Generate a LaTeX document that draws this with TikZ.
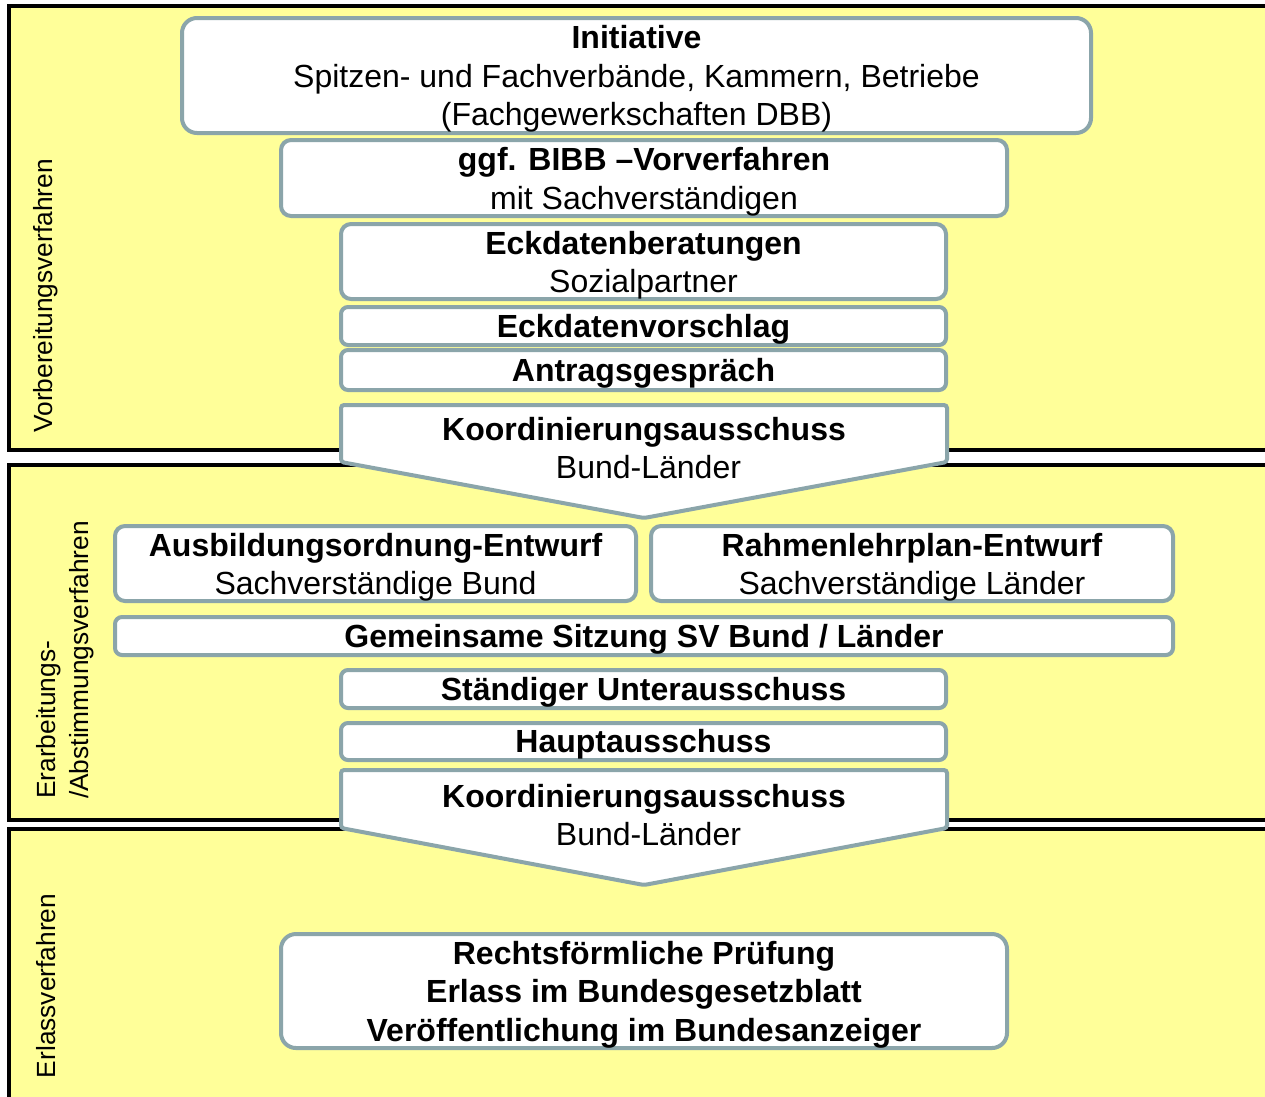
\documentclass[tikz,border=0pt]{standalone}
\usepackage{fontspec}
\setmainfont{Liberation Sans}
\definecolor{bandfill}{RGB}{255,255,153}
\definecolor{boxline}{RGB}{139,165,170}
\newcommand\mainsz{\fontsize{32}{38.5}\selectfont}
\newcommand\sidesz{\fontsize{26.3}{33}\selectfont}
\begin{document}
\begin{tikzpicture}[x=1pt,y=-1pt,
  bandbox/.style={fill=bandfill,draw=black,line width=4pt},
  stepbox/.style={draw=boxline,fill=white,line width=4pt,rounded corners=#1,
    inner sep=0pt},
  stepbox/.default=7pt,
  steptext/.style={align=center,font=\mainsz,inner sep=0pt},
  arrowbox/.style={draw=boxline,fill=white,line width=4pt,rounded corners=3pt},
  sidelabel/.style={rotate=90,font=\sidesz,inner sep=0pt}]
\useasboundingbox (0,0) rectangle (1265,1096);
\clip (0,0) rectangle (1265,1096);
\fill[white] (0,0) rectangle (1265,1096);
% bands
\draw[bandbox] (9,6) rectangle (1285,450);
\draw[bandbox] (9,465) rectangle (1285,820);
\draw[bandbox] (9,829) rectangle (1285,1120);
% side labels
\node[sidelabel] (l1) at (46,296) {Vorbereitungsverfahren};
\node[sidelabel,align=left] (l2) at (65,660) {Erarbeitungs-\\/Abstimmungsverfahren};
\node[sidelabel] (l3) at (46,986) {Erlassverfahren};
% phase 1
\node[stepbox=15pt,minimum width=909pt,minimum height=115pt] (init) at (636.5,75.5) {};
\node[steptext] (initT) at ([yshift=-3.5pt]init.center)
  {\textbf{Initiative}\\Spitzen- und Fachverbände, Kammern, Betriebe\\(Fachgewerkschaften DBB)};
\node[stepbox=10pt,minimum width=726pt,minimum height=76pt] (bibb) at (644,178) {};
\node[steptext] (bibbT) at ([yshift=-3.5pt]bibb.center)
  {\textbf{ggf. BIBB –Vorverfahren}\\mit Sachverständigen};
\node[stepbox=10pt,minimum width=605pt,minimum height=75pt] (eckb) at (643.5,261.5) {};
\node[steptext] (eckbT) at ([yshift=-3.5pt]eckb.center)
  {\textbf{Eckdatenberatungen}\\Sozialpartner};
\node[stepbox,minimum width=605pt,minimum height=38pt] (eckv) at (643.5,326) {};
\node[steptext] (eckvT) at ([yshift=-3pt]eckv.center) {\textbf{Eckdatenvorschlag}};
\node[stepbox,minimum width=605pt,minimum height=40pt] (antr) at (643.5,370) {};
\node[steptext] (antrT) at ([yshift=-3.5pt]antr.center) {\textbf{Antragsgespräch}};
\draw[arrowbox] (341,405) -- (947,405) -- (947,462) -- (644,518) -- (341,462) -- cycle;
\node[steptext] (koord1) at (644,448) {\textbf{Koordinierungsausschuss}\\\hspace*{9pt}Bund-Länder};
% phase 2
\node[stepbox=10pt,minimum width=521pt,minimum height=75pt] (aus) at (375.5,563.5) {};
\node[steptext] (ausT) at ([yshift=-3.5pt]aus.center)
  {\textbf{Ausbildungsordnung-Entwurf}\\Sachverständige Bund};
\node[stepbox=10pt,minimum width=522pt,minimum height=75pt] (rahm) at (912,563.5) {};
\node[steptext] (rahmT) at ([yshift=-3.5pt]rahm.center)
  {\textbf{Rahmenlehrplan-Entwurf}\\Sachverständige Länder};
\node[stepbox,minimum width=1058pt,minimum height=38pt] (gem) at (644,636) {};
\node[steptext] (gemT) at ([yshift=-3pt]gem.center) {\textbf{Gemeinsame Sitzung SV Bund / Länder}};
\node[stepbox,minimum width=605pt,minimum height=38pt] (sua) at (643.5,689) {};
\node[steptext] (suaT) at ([yshift=-3pt]sua.center) {\textbf{Ständiger Unterausschuss}};
\node[stepbox,minimum width=605pt,minimum height=37pt] (ha) at (643.5,741.5) {};
\node[steptext] (haT) at ([yshift=-3pt]ha.center) {\textbf{Hauptausschuss}};
\draw[arrowbox] (341,770) -- (947,770) -- (947,828) -- (644,885) -- (341,828) -- cycle;
\node[steptext] (koord2) at (644,815) {\textbf{Koordinierungsausschuss}\\\hspace*{9pt}Bund-Länder};
% phase 3
\node[stepbox=15pt,minimum width=726pt,minimum height=114pt] (recht) at (644,991) {};
\node[steptext] (rechtT) at ([yshift=-3.5pt]recht.center)
  {\textbf{Rechtsförmliche Prüfung}\\\textbf{Erlass im Bundesgesetzblatt}\\\textbf{Veröffentlichung im Bundesanzeiger}};
\end{tikzpicture}
\end{document}
